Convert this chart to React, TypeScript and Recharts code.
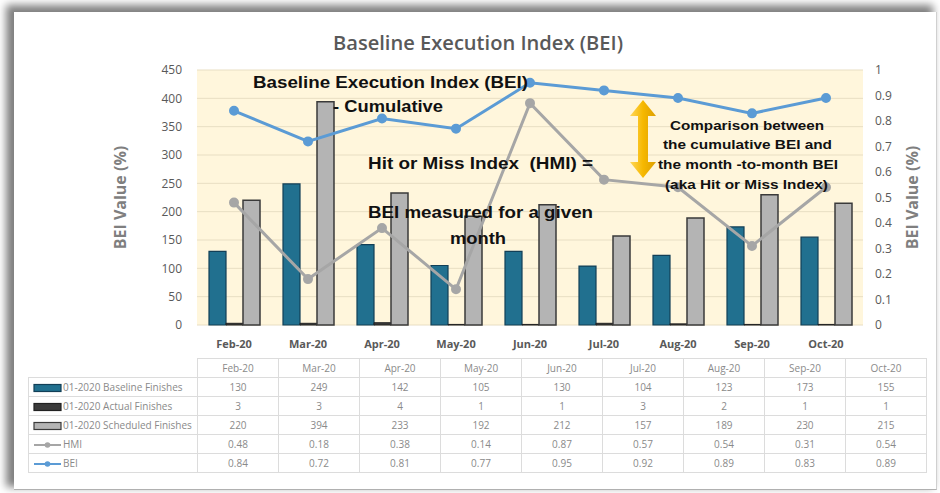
import React from 'react'
import { ComposedChart, Bar, Line, XAxis, YAxis, CartesianGrid } from 'recharts'

const months = ['Feb-20', 'Mar-20', 'Apr-20', 'May-20', 'Jun-20', 'Jul-20', 'Aug-20', 'Sep-20', 'Oct-20']
const baselineFinishes = [130, 249, 142, 105, 130, 104, 123, 173, 155]
const actualFinishes = [3, 3, 4, 1, 1, 3, 2, 1, 1]
const scheduledFinishes = [220, 394, 233, 192, 212, 157, 189, 230, 215]
const hmi = [0.48, 0.18, 0.38, 0.14, 0.87, 0.57, 0.54, 0.31, 0.54]
const bei = [0.84, 0.72, 0.81, 0.77, 0.95, 0.92, 0.89, 0.83, 0.89]
const leftTicks = [0, 50, 100, 150, 200, 250, 300, 350, 400, 450]
const rightTicks = [0, 0.1, 0.2, 0.3, 0.4, 0.5, 0.6, 0.7, 0.8, 0.9, 1]

const BLUE_BAR = '#21708f'
const DARK_BAR = '#3b3b3b'
const GRAY_BAR = '#b4b4b4'
const HMI_GRAY = '#a6a6a6'
const BEI_BLUE = '#5b9bd5'

const chartData = months.map((m, i) => ({
  name: m,
  baseline: baselineFinishes[i],
  actual: actualFinishes[i],
  scheduled: scheduledFinishes[i],
  hmi: hmi[i],
  bei: bei[i]
}))

const tableRows = [
  { label: '01-2020 Baseline Finishes', values: baselineFinishes, key: 'bar', fill: BLUE_BAR, stroke: '#123f57' },
  { label: '01-2020 Actual Finishes', values: actualFinishes, key: 'bar', fill: DARK_BAR, stroke: '#222' },
  { label: '01-2020 Scheduled Finishes', values: scheduledFinishes, key: 'bar', fill: GRAY_BAR, stroke: '#3a3a3a' },
  { label: 'HMI', values: hmi, key: 'line', fill: HMI_GRAY, stroke: HMI_GRAY },
  { label: 'BEI', values: bei, key: 'line', fill: BEI_BLUE, stroke: BEI_BLUE }
]

const fmt = (v: number) => String(v)

const LegendKey = ({ kind, fill, stroke }: { kind: string; fill: string; stroke: string }) => (
  <svg width={29} height={10} style={{ verticalAlign: 'middle', marginRight: 1 }}>
    {kind === 'bar' ? (
      <rect x={1} y={1.5} width={27} height={7} fill={fill} stroke={stroke} strokeWidth={1.2} />
    ) : (
      <g>
        <line x1={1} y1={5} x2={28} y2={5} stroke={stroke} strokeWidth={2} />
        <circle cx={14.5} cy={5} r={2.8} fill={fill} />
      </g>
    )}
  </svg>
)

const annot: React.CSSProperties = {
  fontFamily: '"Liberation Sans", Arial, sans-serif',
  fontWeight: 700,
  fill: '#111',
  whiteSpace: 'pre'
}

export default function App() {
  const cell: React.CSSProperties = {
    border: '1px solid #dcdcdc',
    textAlign: 'center',
    height: 18,
    padding: 0,
    color: '#8a8a8a',
    fontSize: 10
  }
  return (
    <div style={{ position: 'absolute', left: 0, top: 0, width: 940, height: 493, overflow: 'hidden', background: '#fff' }}>
      <div
        style={{
          position: 'absolute',
          left: 14,
          top: 12,
          width: 922,
          height: 477,
          background: '#fff',
          borderBottom: '1px solid #b0b0b0',
          borderRight: '1px solid #d0d0d0',
          boxShadow: '-6px -5px 8px 2px rgba(0,0,0,0.5)'
        }}
      />
      <div style={{ position: 'absolute', left: 0, top: 0 }}>
        <ComposedChart
          width={940}
          height={360}
          data={chartData}
          margin={{ top: 70, right: 17, bottom: 5, left: 100 }}
          barGap={0}
          barCategoryGap={12}
        >
          <CartesianGrid yAxisId="left" vertical={false} stroke="#e8dec3" fill="#fff6dc" />
          <XAxis
            dataKey="name"
            axisLine={false}
            tickLine={false}
            tickSize={0}
            tickMargin={15}
            height={30}
            tick={{ fill: '#595959', fontSize: 11, fontWeight: 700, fontFamily: '"Open Sans", sans-serif' }}
          />
          <YAxis
            yAxisId="left"
            width={97}
            domain={[0, 450]}
            ticks={leftTicks}
            axisLine={false}
            tickLine={false}
            tickSize={0}
            tickMargin={15}
            tick={{ fill: '#595959', fontSize: 12, fontFamily: '"Open Sans", sans-serif' }}
            label={{
              value: 'BEI Value (%)',
              angle: -90,
              position: 'insideLeft',
              offset: 20,
              style: { textAnchor: 'middle', fill: '#7f7f7f', fontSize: 16, fontWeight: 700, fontFamily: '"Open Sans", sans-serif' }
            }}
          />
          <YAxis
            yAxisId="right"
            orientation="right"
            width={60}
            domain={[0, 1]}
            ticks={rightTicks}
            tickFormatter={fmt}
            axisLine={false}
            tickLine={false}
            tickSize={0}
            tickMargin={12}
            tick={{ fill: '#595959', fontSize: 12, fontFamily: '"Open Sans", sans-serif' }}
            label={{
              value: 'BEI Value (%)',
              angle: -90,
              position: 'insideRight',
              offset: 11,
              style: { textAnchor: 'middle', fill: '#7f7f7f', fontSize: 16, fontWeight: 700, fontFamily: '"Open Sans", sans-serif' }
            }}
          />
          <Bar yAxisId="left" dataKey="baseline" fill={BLUE_BAR} stroke="#123f57" strokeWidth={1.2} isAnimationActive={false} />
          <Bar yAxisId="left" dataKey="actual" fill={DARK_BAR} stroke="#222" strokeWidth={1} isAnimationActive={false} />
          <Bar yAxisId="left" dataKey="scheduled" fill={GRAY_BAR} stroke="#3a3a3a" strokeWidth={1.5} isAnimationActive={false} />
          <Line
            yAxisId="right"
            dataKey="hmi"
            stroke={HMI_GRAY}
            strokeWidth={3}
            dot={{ r: 3.5, fill: HMI_GRAY, stroke: HMI_GRAY }}
            isAnimationActive={false}
          />
          <Line
            yAxisId="right"
            dataKey="bei"
            stroke={BEI_BLUE}
            strokeWidth={3}
            dot={{ r: 3.5, fill: BEI_BLUE, stroke: BEI_BLUE }}
            isAnimationActive={false}
          />
        </ComposedChart>
      </div>

      {/* title, annotations and the arrow sit on top of the plot */}
      <svg width={940} height={360} style={{ position: 'absolute', left: 0, top: 0, pointerEvents: 'none' }}>
        <defs>
          <linearGradient id="gold" x1="0" x2="1" y1="0" y2="0">
            <stop offset="0" stopColor="#ffd75a" />
            <stop offset="0.5" stopColor="#f6b800" />
            <stop offset="1" stopColor="#dd9f00" />
          </linearGradient>
        </defs>
        <text
          x={333}
          y={42}
          dominantBaseline="central"
          textLength={290}
          lengthAdjust="spacingAndGlyphs"
          style={{ fontFamily: '"Open Sans", sans-serif', fontSize: 20, fontWeight: 600, fill: '#595959' }}
        >
          Baseline Execution Index (BEI)
        </text>
        <text x={253} y={82} dominantBaseline="central" textLength={275} lengthAdjust="spacingAndGlyphs" style={{ ...annot, fontSize: 16 }}>
          Baseline Execution Index (BEI)
        </text>
        <text x={333} y={106} dominantBaseline="central" textLength={110} lengthAdjust="spacingAndGlyphs" style={{ ...annot, fontSize: 16 }}>
          - Cumulative
        </text>
        <text x={368} y={163} dominantBaseline="central" textLength={225} lengthAdjust="spacingAndGlyphs" style={{ ...annot, fontSize: 16 }}>
          Hit or Miss Index  (HMI) =
        </text>
        <text x={368} y={212} dominantBaseline="central" textLength={225} lengthAdjust="spacingAndGlyphs" style={{ ...annot, fontSize: 16 }}>
          BEI measured for a given
        </text>
        <text x={450} y={238} dominantBaseline="central" textLength={56} lengthAdjust="spacingAndGlyphs" style={{ ...annot, fontSize: 16 }}>
          month
        </text>
        <text x={670} y={126} dominantBaseline="central" textLength={154} lengthAdjust="spacingAndGlyphs" style={{ ...annot, fontSize: 12.5 }}>
          Comparison between
        </text>
        <text x={663} y={145} dominantBaseline="central" textLength={169} lengthAdjust="spacingAndGlyphs" style={{ ...annot, fontSize: 12.5 }}>
          the cumulative BEI and
        </text>
        <text x={658} y={165} dominantBaseline="central" textLength={180} lengthAdjust="spacingAndGlyphs" style={{ ...annot, fontSize: 12.5 }}>
          the month -to-month BEI
        </text>
        <text x={665} y={185} dominantBaseline="central" textLength={163} lengthAdjust="spacingAndGlyphs" style={{ ...annot, fontSize: 12.5 }}>
          (aka Hit or Miss Index)
        </text>
        <polygon
          points="643,100 656,116 648,116 648,162 656,162 643,178 630,162 638,162 638,116 630,116"
          fill="url(#gold)"
        />
      </svg>

      <table
        style={{
          position: 'absolute',
          left: 28,
          top: 358,
          width: 898,
          borderCollapse: 'collapse',
          tableLayout: 'fixed',
          fontFamily: '"Open Sans", sans-serif'
        }}
      >
        <colgroup>
          <col style={{ width: 169 }} />
          {months.map(m => (
            <col key={m} style={{ width: 81 }} />
          ))}
        </colgroup>
        <tbody>
          <tr>
            <td style={{ ...cell, borderTop: 'none', borderLeft: 'none' }} />
            {months.map(m => (
              <td key={m} style={cell}>
                {m}
              </td>
            ))}
          </tr>
          {tableRows.map(r => (
            <tr key={r.label}>
              <td style={{ ...cell, textAlign: 'left', paddingLeft: 4, whiteSpace: 'nowrap' }}>
                <LegendKey kind={r.key} fill={r.fill} stroke={r.stroke} />
                {r.label}
              </td>
              {r.values.map((v, i) => (
                <td key={i} style={cell}>
                  {fmt(v)}
                </td>
              ))}
            </tr>
          ))}
        </tbody>
      </table>
    </div>
  )
}
